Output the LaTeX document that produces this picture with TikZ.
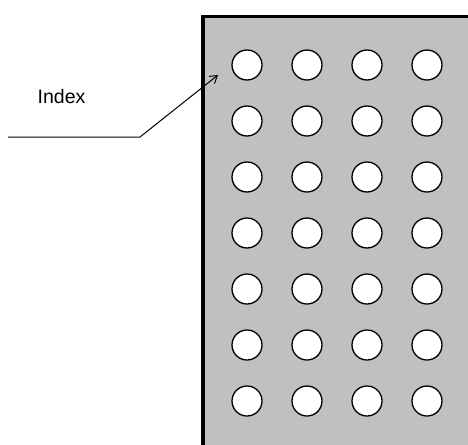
\documentclass[tikz,border=0pt]{standalone}
\usepackage{fontspec}
\setmainfont{Liberation Sans}
\usetikzlibrary{arrows.meta}
\begin{document}
\begin{tikzpicture}[x=1pt,y=-1pt,
  hole/.style={circle,draw=black,fill=white,line width=1.3pt,minimum size=30pt,inner sep=0pt},
  label/.style={font=\fontsize{19.5}{23}\selectfont,inner sep=0pt},
  leader/.style={line width=1pt,-{Straight Barb[length=7pt,width=9pt]}}]
\useasboundingbox (0,0) rectangle (468,444);
\begin{scope}
\clip (0,0) rectangle (468,444);
\draw[fill={rgb,255:red,192;green,192;blue,192},line width=3.5pt] (203,16.5) rectangle (480,460);
\end{scope}
\foreach \r in {0,...,6}{
  \foreach \c in {0,...,3}{
    \node[hole] (h\r\c) at ({247+60*\c},{65+56*\r}) {};
  }
}
\node[label] (idx) at (61.5,97) {Index};
\coordinate (lstart) at (8,137);
\coordinate (lbend) at (140,137);
\coordinate (ltip) at (218,75);
\draw[leader] (lstart) -- (lbend) -- (ltip);
\end{tikzpicture}
\end{document}
